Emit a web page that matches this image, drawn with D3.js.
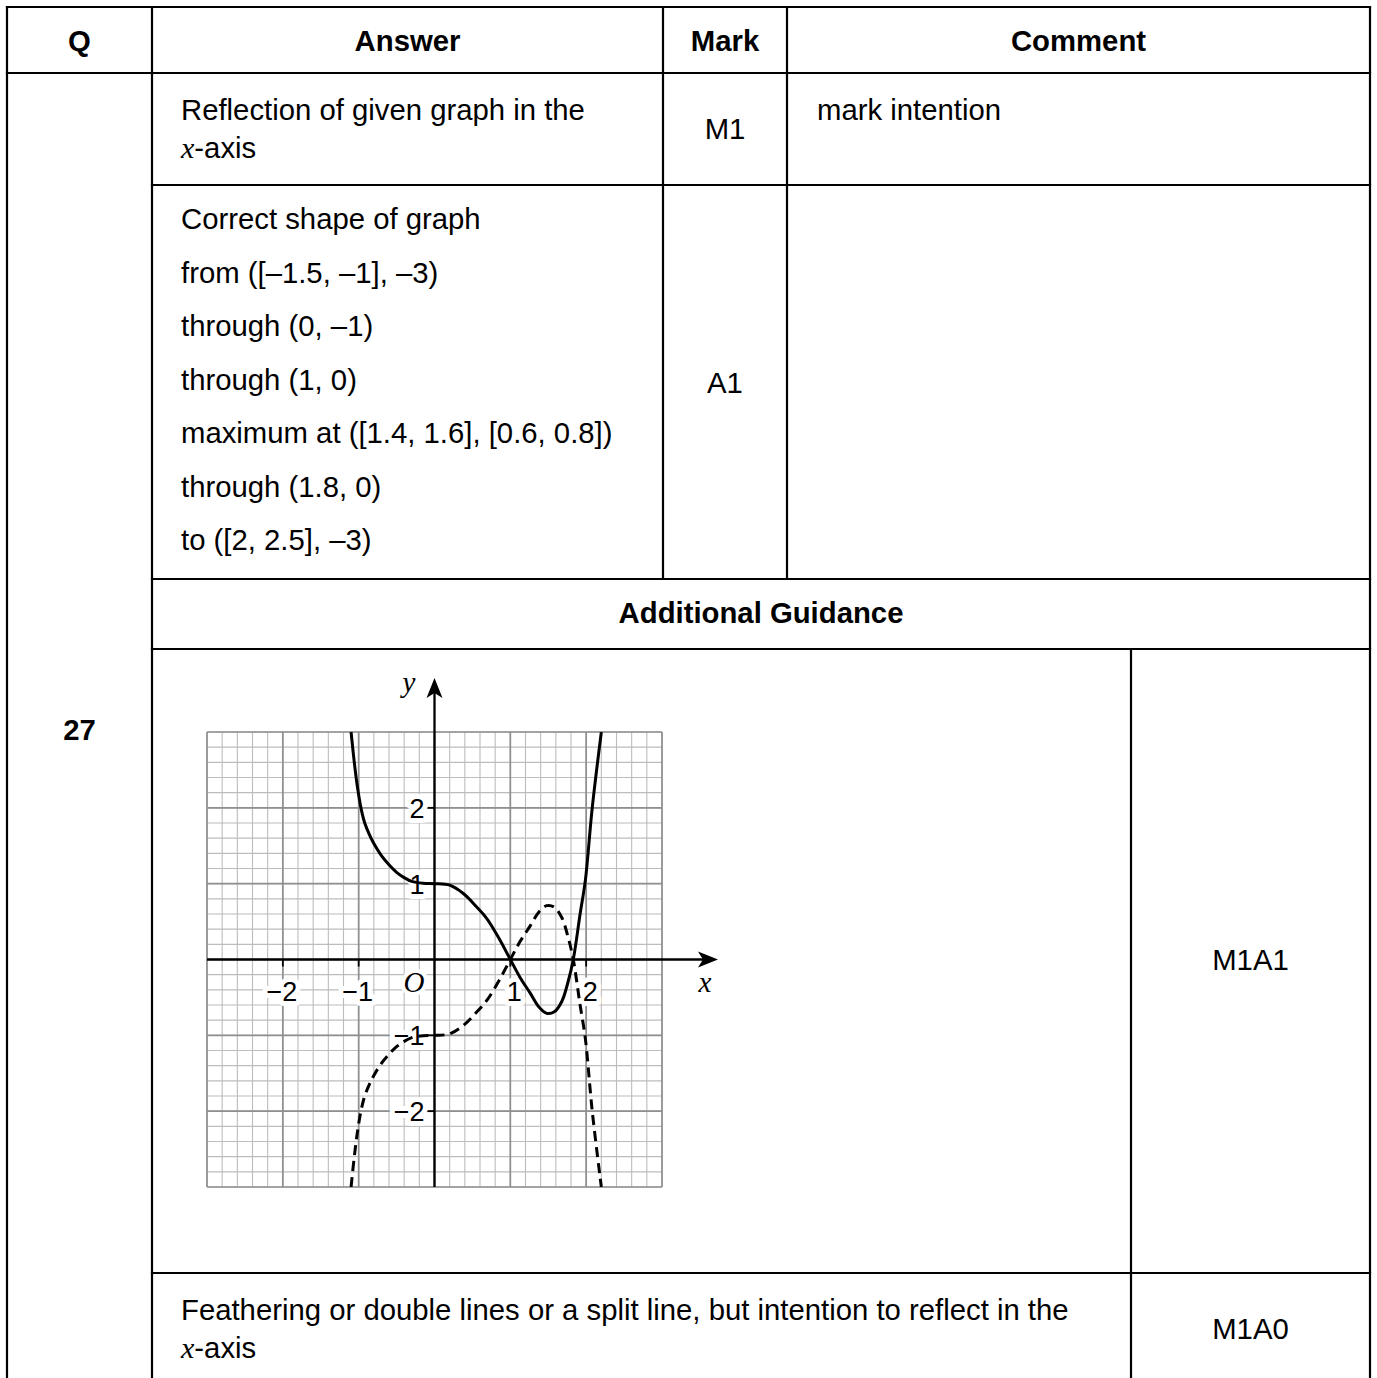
<!DOCTYPE html>
<html>
<head>
<meta charset="utf-8">
<script src="https://cdn.jsdelivr.net/npm/d3@7"></script>
<style>
  body { margin: 0; background: #fff; }
  svg { display: block; }
  .txt { font-family: "Liberation Sans", Arial, sans-serif; font-size: 29.3px; fill: #000; }
  .bold { font-weight: bold; }
  .it { font-family: "Liberation Serif", "Times New Roman", serif; font-style: italic; }
</style>
</head>
<body>
<svg id="hoja" width="1377" height="1378"></svg>
<script>
// datos
const cabeceras = ['Q', 'Answer', 'Mark', 'Comment'];
const fila1 = ['Reflection of given graph in the', '-axis'];
const fila2 = ['Correct shape of graph', 'from ([–1.5, –1], –3)', 'through (0, –1)',
  'through (1, 0)', 'maximum at ([1.4, 1.6], [0.6, 0.8])', 'through (1.8, 0)', 'to ([2, 2.5], –3)'];
const marcas = ['M1', 'A1', 'M1A1', 'M1A0'];
const comentario = 'mark intention';
const guia = 'Additional Guidance';
const pregunta = '27';
const ultimaFila = ['Feathering or double lines or a split line, but intention to reflect in the', '-axis'];

const ticksX = [-2, -1, 1, 2];
const ticksY = [-2, -1, 1, 2];

// curva dada (continua) y su reflexion (discontinua)
const curvaDada = [
  [-1.1, 3.0], [-1.06, 2.62], [-1.02, 2.3], [-0.97, 2.0], [-0.92, 1.8], [-0.86, 1.65],
  [-0.8, 1.53], [-0.7, 1.37], [-0.6, 1.25], [-0.5, 1.15], [-0.4, 1.08], [-0.3, 1.03],
  [-0.15, 1.005], [0, 1.0], [0.2, 0.98], [0.38, 0.87], [0.55, 0.7], [0.69, 0.54],
  [0.85, 0.28], [1.0, 0], [1.13, -0.24], [1.26, -0.44], [1.38, -0.63], [1.48, -0.71],
  [1.58, -0.69], [1.68, -0.55], [1.76, -0.3], [1.83, 0], [1.92, 0.6], [1.99, 1.05],
  [2.08, 2.0], [2.2, 3.0]
];
const curvaReflejada = [
  [-1.1, -3.0], [-1.06, -2.62], [-1.02, -2.3], [-0.97, -2.0], [-0.92, -1.8], [-0.86, -1.65],
  [-0.8, -1.53], [-0.7, -1.37], [-0.6, -1.25], [-0.5, -1.15], [-0.4, -1.08], [-0.3, -1.03],
  [-0.15, -1.005], [0, -1.0], [0.2, -0.98], [0.38, -0.87], [0.55, -0.7], [0.69, -0.54],
  [0.85, -0.28], [1.0, 0], [1.13, 0.24], [1.26, 0.44], [1.38, 0.63], [1.48, 0.71],
  [1.58, 0.69], [1.68, 0.55], [1.76, 0.3], [1.83, 0], [1.92, -0.6], [1.99, -1.05],
  [2.08, -2.0], [2.2, -3.0]
];

const svg = d3.select('#hoja');

///////////////////////////////////////
// tabla

const izq = 7, der = 1370, arriba = 7, abajo = 1378;
const colQ = 152, colAns = 663, colMark = 787, colGraf = 1131;
const filas = [73, 185, 579, 649, 1273];

const lineas = [
  [izq, arriba, der, arriba],
  [izq, filas[0], der, filas[0]],
  [colQ, filas[1], der, filas[1]],
  [colQ, filas[2], der, filas[2]],
  [colQ, filas[3], der, filas[3]],
  [colQ, filas[4], der, filas[4]],
  [izq, arriba, izq, abajo],
  [der, arriba, der, abajo],
  [colQ, arriba, colQ, abajo],
  [colAns, arriba, colAns, filas[2]],
  [colMark, arriba, colMark, filas[2]],
  [colGraf, filas[3], colGraf, abajo]
];

svg.append('g')
  .selectAll('line')
  .data(lineas)
  .join('line')
  .attr('x1', d => d[0]).attr('y1', d => d[1])
  .attr('x2', d => d[2]).attr('y2', d => d[3])
  .attr('stroke', '#000')
  .attr('stroke-width', 2.2)
  .attr('stroke-linecap', 'square');

const centrosCab = [(izq + colQ) / 2, (colQ + colAns) / 2, (colAns + colMark) / 2, (colMark + der) / 2];

svg.append('g')
  .selectAll('text')
  .data(cabeceras)
  .join('text')
  .attr('class', 'txt bold')
  .attr('x', (d, i) => centrosCab[i])
  .attr('y', 51)
  .attr('text-anchor', 'middle')
  .text(d => d);

function textoConX(g, x, y, linea1, resto) {
  g.append('text').attr('class', 'txt').attr('x', x).attr('y', y).text(linea1);
  const t = g.append('text').attr('class', 'txt').attr('x', x).attr('y', y + 38);
  t.append('tspan').attr('class', 'it').style('font-size', '30px').text('x');
  t.append('tspan').text(resto);
}

const cuerpo = svg.append('g');

textoConX(cuerpo, 181, 120, fila1[0], fila1[1]);

cuerpo.selectAll('.f2')
  .data(fila2)
  .join('text')
  .attr('class', 'txt f2')
  .attr('x', 181)
  .attr('y', (d, i) => 229 + i * 53.5)
  .text(d => d);

const posMarcas = [
  [(colAns + colMark) / 2, 139],
  [(colAns + colMark) / 2, 393],
  [(colGraf + der) / 2, 970],
  [(colGraf + der) / 2, 1339]
];

cuerpo.selectAll('.marca')
  .data(marcas)
  .join('text')
  .attr('class', 'txt marca')
  .attr('x', (d, i) => posMarcas[i][0])
  .attr('y', (d, i) => posMarcas[i][1])
  .attr('text-anchor', 'middle')
  .text(d => d);

cuerpo.append('text').attr('class', 'txt').attr('x', 817).attr('y', 120).text(comentario);

cuerpo.append('text').attr('class', 'txt bold')
  .attr('x', (colQ + der) / 2).attr('y', 623)
  .attr('text-anchor', 'middle').text(guia);

cuerpo.append('text').attr('class', 'txt bold')
  .attr('x', (izq + colQ) / 2).attr('y', 740)
  .attr('text-anchor', 'middle').text(pregunta);

textoConX(cuerpo, 181, 1320, ultimaFila[0], ultimaFila[1]);

///////////////////////////////////////
// grafico

const x = d3.scaleLinear().domain([-3, 3]).range([207, 662]);
const y = d3.scaleLinear().domain([-3, 3]).range([1187, 732]);

const graf = svg.append('g');

const menores = d3.range(-15, 16).map(d => d / 5);
const mayores = d3.range(-3, 4);

graf.append('g')
  .selectAll('line')
  .data(menores)
  .join('line')
  .attr('x1', d => x(d)).attr('x2', d => x(d))
  .attr('y1', y(-3)).attr('y2', y(3))
  .attr('stroke', '#bcbcbc').attr('stroke-width', 1.1);

graf.append('g')
  .selectAll('line')
  .data(menores)
  .join('line')
  .attr('y1', d => y(d)).attr('y2', d => y(d))
  .attr('x1', x(-3)).attr('x2', x(3))
  .attr('stroke', '#bcbcbc').attr('stroke-width', 1.1);

graf.append('g')
  .selectAll('line')
  .data(mayores)
  .join('line')
  .attr('x1', d => x(d)).attr('x2', d => x(d))
  .attr('y1', y(-3)).attr('y2', y(3))
  .attr('stroke', '#8f8f8f').attr('stroke-width', 1.7);

graf.append('g')
  .selectAll('line')
  .data(mayores)
  .join('line')
  .attr('y1', d => y(d)).attr('y2', d => y(d))
  .attr('x1', x(-3)).attr('x2', x(3))
  .attr('stroke', '#8f8f8f').attr('stroke-width', 1.7);

// ejes con flecha
const x0 = x(0), y0 = y(0);
const puntaX = 718, puntaY = 678;

graf.append('line')
  .attr('x1', x(-3)).attr('x2', puntaX - 10)
  .attr('y1', y0).attr('y2', y0)
  .attr('stroke', '#000').attr('stroke-width', 2.3);
graf.append('path')
  .attr('d', `M${puntaX},${y0} L${puntaX - 20},${y0 - 8} L${puntaX - 15},${y0} L${puntaX - 20},${y0 + 8} Z`)
  .attr('fill', '#000');

graf.append('line')
  .attr('x1', x0).attr('x2', x0)
  .attr('y1', y(-3)).attr('y2', puntaY + 10)
  .attr('stroke', '#000').attr('stroke-width', 2.3);
graf.append('path')
  .attr('d', `M${x0},${puntaY} L${x0 - 8},${puntaY + 20} L${x0},${puntaY + 15} L${x0 + 8},${puntaY + 20} Z`)
  .attr('fill', '#000');

// marcas de los ejes
graf.append('g')
  .selectAll('line')
  .data(ticksX)
  .join('line')
  .attr('x1', d => x(d)).attr('x2', d => x(d))
  .attr('y1', y0).attr('y2', y0 + 7)
  .attr('stroke', '#000').attr('stroke-width', 1.8);

graf.append('g')
  .selectAll('line')
  .data(ticksY)
  .join('line')
  .attr('y1', d => y(d)).attr('y2', d => y(d))
  .attr('x1', x0).attr('x2', x0 - 7)
  .attr('stroke', '#000').attr('stroke-width', 1.8);

// curvas
const linea = d3.line()
  .x(d => x(d[0]))
  .y(d => y(d[1]))
  .curve(d3.curveCatmullRom.alpha(0.5));

graf.append('defs').append('clipPath').attr('id', 'recorte')
  .append('rect')
  .attr('x', x(-3)).attr('y', y(3))
  .attr('width', x(3) - x(-3)).attr('height', y(-3) - y(3));

// etiquetas con fondo blanco
const etiq = graf.append('g')
  .attr('font-family', '"Liberation Sans", Arial, sans-serif')
  .attr('font-size', 27);

const fmt = d => d < 0 ? '−' + Math.abs(d) : String(d);

etiq.selectAll('.ex')
  .data(ticksX)
  .join('text')
  .attr('class', 'ex')
  .attr('x', d => x(d) + (d > 0 ? 4 : -1))
  .attr('y', y0 + 41)
  .attr('text-anchor', 'middle')
  .attr('stroke', '#fff').attr('stroke-width', 10)
  .attr('paint-order', 'stroke')
  .attr('stroke-linejoin', 'round')
  .text(fmt);

etiq.selectAll('.ey')
  .data(ticksY)
  .join('text')
  .attr('class', 'ey')
  .attr('x', x0 - 10)
  .attr('y', d => y(d) + 10)
  .attr('text-anchor', 'end')
  .attr('stroke', '#fff').attr('stroke-width', 10)
  .attr('paint-order', 'stroke')
  .attr('stroke-linejoin', 'round')
  .text(fmt);

graf.append('text')
  .attr('class', 'it')
  .attr('x', 414).attr('y', 992)
  .attr('text-anchor', 'middle')
  .attr('font-size', 29)
  .attr('stroke', '#fff').attr('stroke-width', 8)
  .attr('paint-order', 'stroke')
  .text('O');

graf.append('text')
  .attr('class', 'it')
  .attr('x', 705).attr('y', 992)
  .attr('text-anchor', 'middle')
  .attr('font-size', 29)
  .text('x');

graf.append('text')
  .attr('class', 'it')
  .attr('x', 409).attr('y', 692)
  .attr('text-anchor', 'middle')
  .attr('font-size', 29)
  .text('y');

graf.append('path')
  .datum(curvaReflejada)
  .attr('d', linea)
  .attr('clip-path', 'url(#recorte)')
  .attr('fill', 'none')
  .attr('stroke', '#000')
  .attr('stroke-width', 3)
  .attr('stroke-dasharray', '10,6');

graf.append('path')
  .datum(curvaDada)
  .attr('d', linea)
  .attr('clip-path', 'url(#recorte)')
  .attr('fill', 'none')
  .attr('stroke', '#000')
  .attr('stroke-width', 3);
</script>
</body>
</html>
